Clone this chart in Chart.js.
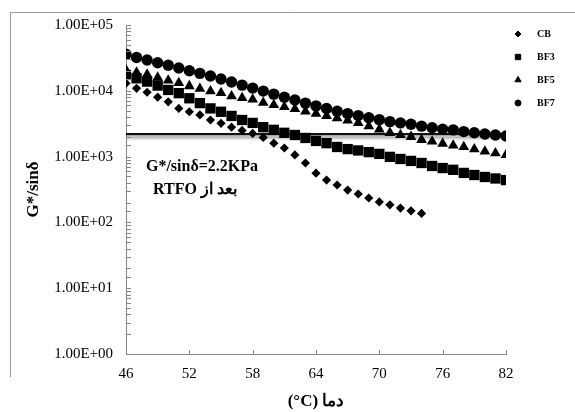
<!DOCTYPE html>
<html>
<head>
<meta charset="utf-8">
<script src="https://cdn.jsdelivr.net/npm/chart.js@4"></script>
<style>
  html, body { margin: 0; padding: 0; background: #fff; }
  #wrap { width: 575px; height: 412px; }
</style>
</head>
<body>
<div id="wrap"><canvas id="dsr" width="575" height="412"></canvas></div>
<script>
// temperatures (°C)
const temps = [46, 47, 48, 49, 50, 51, 52, 53, 54, 55, 56, 57, 58, 59, 60, 61, 62, 63, 64,
  65, 66, 67, 68, 69, 70, 71, 72, 73, 74, 75, 76, 77, 78, 79, 80, 81, 82];

// G*/sin(delta) after RTFO, Pa
const cb = [13000, 10900, 9500, 8000, 6800, 5400, 4800, 4300, 3600, 3200, 2800, 2500, 2250,
  1950, 1600, 1350, 1060, 800, 560, 440, 370, 310, 270, 235, 205, 185, 165, 150, 137];
const bf3 = [17400, 15500, 13800, 12000, 10300, 9200, 7700, 6500, 5400, 4800, 4150, 3600, 3250,
  2800, 2550, 2300, 2130, 1920, 1730, 1600, 1400, 1300, 1240, 1170, 1100, 990, 920, 860, 800,
  720, 670, 630, 565, 525, 490, 465, 440];
const bf5 = [20700, 19000, 17700, 15900, 14400, 13200, 11800, 10800, 9900, 9300, 8300, 7800, 7400,
  6600, 6100, 5700, 5300, 4850, 4500, 4150, 3850, 3550, 3250, 2900, 2600, 2300, 2130, 2000, 1800,
  1700, 1580, 1480, 1400, 1300, 1200, 1130, 1060];
const bf7 = [36000, 32000, 29400, 26700, 24400, 22200, 20200, 18400, 16800, 15100, 13600, 12200, 11000,
  9900, 8900, 8000, 7250, 6500, 5900, 5400, 4900, 4500, 4200, 3900, 3650, 3400, 3250, 3100, 2900,
  2750, 2600, 2550, 2400, 2300, 2200, 2130, 2060];

const seriesNames = ["CB", "BF3", "BF5", "BF7"];
const limitValue = 2200; // 2.2 kPa criterion
const limitRange = [46, 82];
const xTicks = [46, 52, 58, 64, 70, 76, 82];

const SERIF = "'Liberation Serif', 'Times New Roman', 'DejaVu Serif', serif";
Chart.defaults.font.family = SERIF;
Chart.defaults.color = "#000";

function pts(values) {
  return values.map((v, i) => ({ x: temps[i], y: v }));
}

// inward tick marks on both axes
const innerTicks = {
  id: "innerTicks",
  afterDraw(chart) {
    const ctx = chart.ctx;
    const x = chart.scales.x, y = chart.scales.y;
    ctx.save();
    ctx.strokeStyle = "#868686";
    ctx.lineWidth = 1;
    ctx.beginPath();
    y.ticks.forEach((t) => {
      const py = Math.round(y.getPixelForValue(t.value)) + 0.5;
      ctx.moveTo(x.left, py);
      ctx.lineTo(x.left + 5, py);
    });
    x.ticks.forEach((t) => {
      const px = Math.round(x.getPixelForValue(t.value)) + 0.5;
      ctx.moveTo(px, y.bottom);
      ctx.lineTo(px, y.bottom - 4);
    });
    ctx.stroke();
    ctx.restore();
  }
};

// soft shadow under the criterion line
const lineShadow = {
  id: "lineShadow",
  beforeDatasetDraw(chart, args) {
    if (args.meta.label !== "limit") return;
    const ctx = chart.ctx;
    ctx.save();
    ctx.shadowColor = "rgba(0,0,0,0.45)";
    ctx.shadowBlur = 3;
    ctx.shadowOffsetY = 3;
  },
  afterDatasetDraw(chart, args) {
    if (args.meta.label !== "limit") return;
    chart.ctx.restore();
  }
};

// legend on the right, text labels and outer frame
const extras = {
  id: "extras",
  afterDraw(chart) {
    const ctx = chart.ctx;
    ctx.save();
    // frame
    ctx.strokeStyle = "#9a9a9a";
    ctx.lineWidth = 1;
    ctx.beginPath();
    ctx.moveTo(10.5, 377);
    ctx.lineTo(10.5, 12.5);
    ctx.lineTo(575, 12.5);
    ctx.stroke();

    // legend
    ctx.fillStyle = "#000";
    ctx.strokeStyle = "#000";
    ctx.textAlign = "left";
    ctx.textBaseline = "middle";
    ctx.font = "bold 10px " + SERIF;
    const legendSizes = [3, 3.8, 3.6, 3];
    chart.data.datasets.slice(0, 4).forEach((ds, i) => {
      const ly = 34 + i * 23;
      Chart.helpers.drawPoint(ctx, { pointStyle: ds.pointStyle, radius: legendSizes[i], rotation: 0, borderWidth: 1 }, 518, ly);
      ctx.fillText(ds.label, 537, ly);
    });

    // criterion note
    const area = chart.chartArea;
    ctx.textAlign = "center";
    ctx.font = "bold 16px " + SERIF;
    ctx.fillText("G*/sinδ=2.2KPa", area.left + 76, 167);
    ctx.fillText("RTFO بعد از", area.left + 69, 190);
    ctx.restore();
  }
};

function marker(label, values, style, r) {
  return {
    label: label,
    data: pts(values),
    pointStyle: style,
    pointRadius: r,
    pointHoverRadius: r,
    backgroundColor: "#000",
    borderColor: "#000",
    borderWidth: 0,
    showLine: false
  };
}

new Chart(document.getElementById("dsr").getContext("2d"), {
  type: "scatter",
  data: {
    datasets: [
      marker(seriesNames[0], cb, "rectRot", 4.6),
      marker(seriesNames[1], bf3, "rect", 7.3),
      marker(seriesNames[2], bf5, "triangle", 6.2),
      marker(seriesNames[3], bf7, "circle", 5.7),
      {
        label: "limit",
        data: limitRange.map((t) => ({ x: t, y: limitValue })),
        showLine: true,
        borderColor: "#111",
        borderWidth: 2.2,
        pointRadius: 0
      }
    ]
  },
  options: {
    responsive: false,
    animation: false,
    layout: { padding: { left: 18, top: 25, right: 69, bottom: 0 } },
    plugins: {
      legend: { display: false },
      tooltip: { enabled: false }
    },
    scales: {
      x: {
        type: "linear",
        min: 46,
        max: 82,
        afterBuildTicks: (s) => { s.ticks = xTicks.map((v) => ({ value: v })); },
        afterFit: (s) => { s.height = 58; },
        grid: { display: true, drawOnChartArea: false, drawTicks: false },
        border: { display: true, color: "#868686", width: 1 },
        ticks: { padding: 11, font: { size: 15 } },
        title: {
          display: true,
          text: "(°C) دما",
          font: { size: 17, weight: "bold" },
          padding: { top: 0, bottom: 0 }
        }
      },
      y: {
        type: "logarithmic",
        min: 1,
        max: 100000,
        afterFit: (s) => { s.width = 108; },
        grid: { display: true, drawOnChartArea: false, drawTicks: false },
        border: { display: true, color: "#868686", width: 1 },
        ticks: {
          autoSkip: false,
          padding: 13,
          font: { size: 15 },
          callback: function (v) {
            const e = Math.log10(v);
            if (Math.abs(e - Math.round(e)) > 1e-9) return "";
            return "1.00E+" + String(Math.round(e)).padStart(2, "0");
          }
        },
        title: {
          display: true,
          text: "G*/sinδ",
          font: { size: 17, weight: "bold" },
          padding: { top: 5, bottom: 0 }
        }
      }
    }
  },
  plugins: [innerTicks, lineShadow, extras]
});
</script>
</body>
</html>
